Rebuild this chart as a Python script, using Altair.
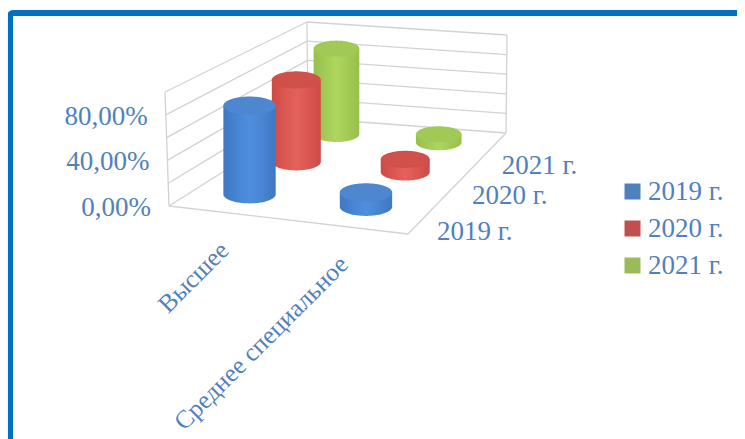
import numpy as np
import pandas as pd
import altair as alt

categories = ["Высшее", "Среднее специальное"]
series = ["2019 г.", "2020 г.", "2021 г."]
values_high = [80, 78, 86]
values_mid = [13, 12, 8]
tick_values = [0, 20, 40, 60, 80, 100]
tick_labels = {0: "0,00%", 40: "40,00%", 80: "80,00%"}
legend_colors = ["#4f81bd", "#c0504d", "#9bbb59"]
edge_colors = ["#3f78c4", "#cf4a46", "#96c04c"]
mid_colors = ["#4f8fe0", "#e4625c", "#aed65f"]
top_colors = ["#4f86d0", "#d0504c", "#a0ca55"]
text_color = "#4f81bd"
grid_color = "#d2d2d2"
border_color = "#0070c0"
FONT = "Liberation Serif"

# Floor and height geometry of the 3-D box (perspective from picture)
FL, FR, BR, BL = (169, 206), (408, 234), (506, 133), (308, 118)
H_FL, H_FR, H_BR, H_BL = 114, 112, 98, 96
LEAN_FL, LEAN_FR, LEAN_BR, LEAN_BL = -4, -2, 1, -1


def homography(q):
    (x0, y0), (x1, y1), (x2, y2), (x3, y3) = q
    dx1, dx2, sx = x1 - x2, x3 - x2, x0 - x1 + x2 - x3
    dy1, dy2, sy = y1 - y2, y3 - y2, y0 - y1 + y2 - y3
    d = dx1 * dy2 - dx2 * dy1
    g = (sx * dy2 - dx2 * sy) / d
    h = (dx1 * sy - sx * dy1) / d
    return np.array([[x1 - x0 + g * x1, x3 - x0 + h * x3, x0],
                     [y1 - y0 + g * y1, y3 - y0 + h * y3, y0],
                     [g, h, 1.0]])


HM = homography([FL, FR, BR, BL])


def bil(u, v, a, b, c, d):
    return a * (1 - u) * (1 - v) + b * u * (1 - v) + c * u * v + d * (1 - u) * v


def project(u, v, value=0.0, lean=True):
    p = HM @ np.array([u, v, 1.0])
    x, y = p[0] / p[2], p[1] / p[2]
    f = value / 100.0
    y -= f * bil(u, v, H_FL, H_FR, H_BR, H_BL)
    if lean:
        x += f * bil(u, v, LEAN_FL, LEAN_FR, LEAN_BR, LEAN_BL)
    return x, y


CW, CH = 729, 431
X = lambda f="x": alt.X(f, type="quantitative", axis=None, scale=alt.Scale(domain=[8, 8 + CW], range=[0, CW], nice=False, zero=False))
Y = lambda f="y": alt.Y(f, type="quantitative", axis=None, scale=alt.Scale(domain=[8, 8 + CH], range=[0, CH], nice=False, zero=False))

layers = []

# frame
layers.append(alt.Chart(pd.DataFrame({"x": [10], "x2": [900], "y": [13], "y2": [900]})).mark_rect(
    fill="white", stroke=border_color, strokeWidth=6, cornerRadius=3, clip=False
).encode(x=X(), x2="x2", y=Y(), y2="y2"))

# walls
segs = []
for t in tick_values:
    a = project(0, 0, t); b = project(0, 1, t); c = project(1, 1, t)
    segs.append((*a, *b)); segs.append((*b, *c))
for u, v in [(0, 0), (0, 1), (1, 1)]:
    segs.append((*project(u, v, 0), *project(u, v, 100)))
segs.append((*project(0, 0), *project(1, 0)))
segs.append((*project(1, 0), *project(1, 1)))
seg_df = pd.DataFrame(segs, columns=["x", "y", "x2", "y2"])
layers.append(alt.Chart(seg_df).mark_rule(color=grid_color, strokeWidth=1.3).encode(
    x=X(), y=Y(), x2="x2", y2="y2"))

# legend carrier: small points hidden under the cylinders
anchor = pd.DataFrame([{"x": project(0.25, (i * 2 + 1) / 6)[0], "y": project(0.25, (i * 2 + 1) / 6, 30)[1], "s": s}
                       for i, s in enumerate(series)])
layers.append(alt.Chart(anchor).mark_point(filled=True, shape="square", size=10, opacity=1).encode(
    x=X(), y=Y(),
    color=alt.Color("s:N", scale=alt.Scale(domain=series, range=legend_colors), sort=series,
                    legend=alt.Legend(title=None, orient="none", legendX=611, legendY=170,
                                      symbolType="square", symbolSize=256, symbolStrokeWidth=0,
                                      labelFont=FONT, labelFontSize=27, labelColor=text_color,
                                      rowPadding=9, labelOffset=2, labelLimit=200,
                                      symbolOpacity=1))))


def cylinder(u, v, value, i):
    depth = (1 - v)
    rx = 22 + 5 * depth
    ry = rx * 0.35
    cx, base = project(u, v, 0, lean=False)
    cx += 0.5 * value / 100 * bil(u, v, LEAN_FL, LEAN_FR, LEAN_BR, LEAN_BL)
    top = project(u, v, value)[1]
    t = np.linspace(np.pi, 0, 61)
    xs = cx + rx * np.cos(t)
    body = pd.DataFrame({"x": xs, "y": top + 0 * t, "y2": base + ry * np.sin(t)})
    cap = pd.DataFrame({"x": xs, "y": top - ry * np.sin(t), "y2": top + ry * np.sin(t)})
    grad = alt.LinearGradient(gradient="linear", x1=0, x2=1, y1=0, y2=0, stops=[
        alt.GradientStop(color=edge_colors[i], offset=0),
        alt.GradientStop(color=mid_colors[i], offset=0.5),
        alt.GradientStop(color=edge_colors[i], offset=1)])
    return [
        alt.Chart(body).mark_area(color=grad).encode(x=X(), y=Y(), y2="y2"),
        alt.Chart(cap).mark_area(color=top_colors[i]).encode(x=X(), y=Y(), y2="y2"),
    ]


# back to front
for i in [2, 1, 0]:
    v = (2 * i + 1) / 6
    layers += cylinder(0.25, v, values_high[i], i)
    layers += cylinder(0.75, v, values_mid[i], i)

# value labels
val = pd.DataFrame([{"x": project(0, 0, t)[0], "y": project(0, 0, t)[1], "t": tick_labels[t]} for t in tick_labels])
layers.append(alt.Chart(val).mark_text(font=FONT, fontSize=27, color=text_color, align="right", baseline="middle",
                                       dx=-18, dy=2).encode(x=X(), y=Y(), text="t:N"))

# depth labels
dep = pd.DataFrame([{"x": project(1, (2 * i + 1) / 6)[0], "y": project(1, (2 * i + 1) / 6)[1], "t": s}
                    for i, s in enumerate(series)])
layers.append(alt.Chart(dep).mark_text(font=FONT, fontSize=27, color=text_color, align="left", baseline="middle",
                                       dx=9, dy=19).encode(x=X(), y=Y(), text="t:N"))

# category labels
cat = pd.DataFrame([{"x": project(u, 0)[0], "y": project(u, 0)[1], "t": c}
                    for u, c in zip([0.25, 0.75], categories)])
layers.append(alt.Chart(cat).mark_text(font=FONT, fontSize=25.5, color=text_color, align="right", baseline="middle",
                                       angle=315, dx=-24, dy=24).encode(x=X(), y=Y(), text="t:N"))

chart = alt.layer(*layers).properties(
    width=CW, height=CH, padding=0, autosize=alt.AutoSizeParams(type="none"), background="white"
).configure_view(stroke=None)

chart.save("out.html", embed_options={"renderer": "svg", "actions": False})
